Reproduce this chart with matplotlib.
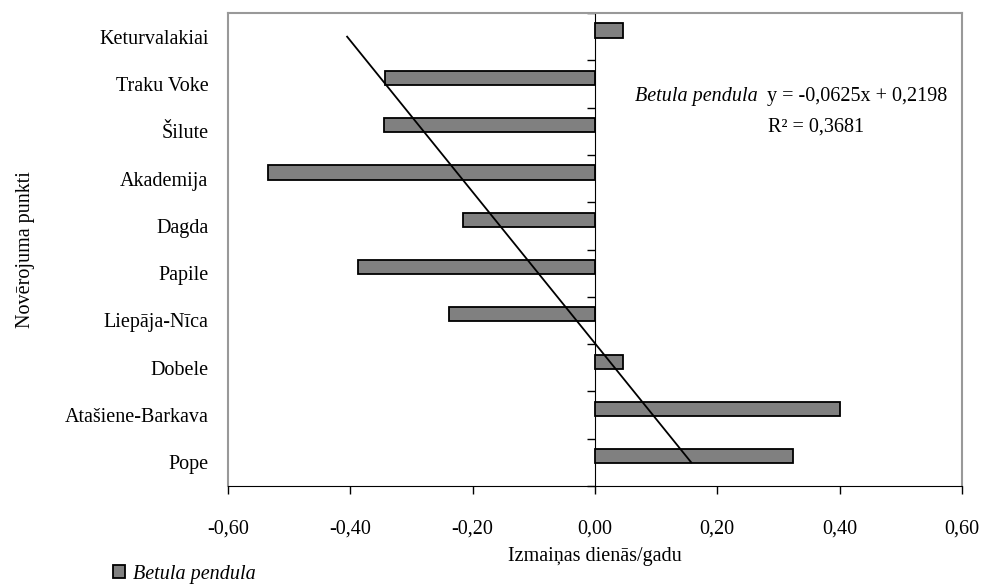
import numpy as np
import matplotlib.pyplot as plt
from matplotlib.ticker import FuncFormatter

plt.rcParams['font.family'] = ['Liberation Serif', 'DejaVu Serif']

# observation sites, bottom to top
sites = ['Pope', 'Atašiene-Barkava', 'Dobele', 'Liepāja-Nīca', 'Papile',
         'Dagda', 'Akademija', 'Šilute', 'Traku Voke', 'Keturvalakiai']
change = [0.324, 0.400, 0.046, -0.239, -0.387,
          -0.216, -0.534, -0.345, -0.344, 0.046]

# linear trend over the site index (1 = Pope)
slope = -0.0625
intercept = 0.2198
r2 = 0.3681

x_ticks = [-0.6, -0.4, -0.2, 0.0, 0.2, 0.4, 0.6]

fs = 14.5

fig = plt.figure(figsize=(9.99, 5.84), dpi=100)
ax = fig.add_axes([0.2282, 0.1678, 0.7347, 0.8099])

pos = np.arange(1, len(sites) + 1)
bars = ax.barh(pos + 0.13, change, height=0.3, color='#808080',
               edgecolor='black', linewidth=1.3, label='Betula pendula')

trend = slope * pos + intercept
ax.plot([trend[0], trend[-1]], [pos[0], pos[-1]], color='black', linewidth=1.3)

ax.set_xlim(-0.6, 0.6)
ax.set_ylim(0.5, len(sites) + 0.5)
ax.set_xticks(x_ticks)
ax.xaxis.set_major_formatter(FuncFormatter(lambda v, p: f'{v:.2f}'.replace('.', ',')))
ax.tick_params(axis='x', direction='out', length=6, width=1, labelsize=fs, pad=18)

ax.set_yticks(pos)
ax.set_yticklabels(sites, fontsize=fs)
ax.tick_params(axis='y', length=0, pad=14)

for side in ['left', 'right', 'top']:
    ax.spines[side].set_color('#999999')
    ax.spines[side].set_linewidth(1.5)
ax.spines['bottom'].set_color('black')

# category axis drawn through zero
zero_ax = ax.secondary_yaxis(0.5)
zero_ax.set_yticks(np.arange(0.5, len(sites) + 1, 1.0))
zero_ax.set_yticklabels([])
zero_ax.tick_params(direction='in', length=6, width=1)
zero_ax.spines['left'].set_color('black')

ax.set_xlabel('Izmaiņas dienās/gadu', fontsize=fs, labelpad=6)
ax.set_ylabel('Novērojuma punkti', fontsize=fs, labelpad=21)

# trend equation
t_it = fig.text(635 / 999, 1 - 97 / 584, 'Betula pendula', style='italic',
                fontsize=fs, ha='left', va='center')
fig.canvas.draw()
bb = t_it.get_window_extent()
fig.text(bb.x1 / 999 + 0.009, 1 - 97 / 584,
         'y = ' + f'{slope:.4f}'.replace('.', ',') + 'x + ' + f'{intercept:.4f}'.replace('.', ','),
         fontsize=fs, ha='left', va='center')
fig.text(816 / 999, 1 - 127 / 584, 'R² = ' + f'{r2:.4f}'.replace('.', ','),
         fontsize=fs, ha='center', va='center')

fig.legend(handles=[bars], loc='center left', bbox_to_anchor=(0.103, 0.017),
           frameon=False, handlelength=0.6, handleheight=0.6, handletextpad=0.4,
           borderpad=0, prop={'style': 'italic', 'size': fs})

fig.savefig('out.png', dpi=100)
